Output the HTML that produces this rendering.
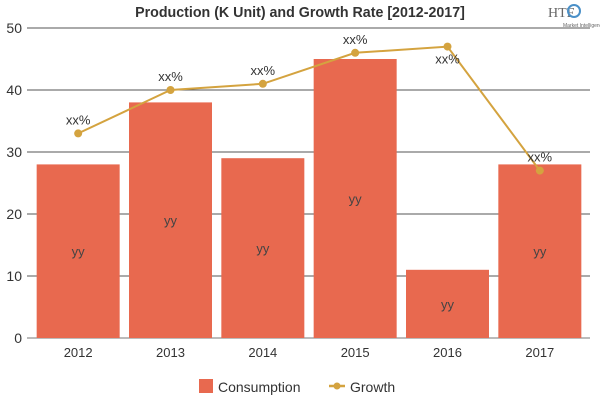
<!DOCTYPE html>
<html><head><meta charset="utf-8"><style>
body{margin:0;background:#fff;width:600px;height:400px;overflow:hidden;font-family:"Liberation Sans",sans-serif}
</style></head><body>
<svg id="c" width="600" height="400">
<text x="300" y="17" text-anchor="middle" font-size="15" font-weight="bold" fill="#333" font-family="Liberation Sans Narrow, Liberation Sans, sans-serif" transform="translate(300,0) scale(0.95,1) translate(-300,0)">Production (K Unit) and Growth Rate [2012-2017]</text>
<g><text x="548" y="17" font-size="14" fill="#666" font-family="Liberation Serif, serif">HTF</text><circle cx="574" cy="11" r="6" fill="none" stroke="#4a90c8" stroke-width="2"/><text x="563" y="27" font-size="5" fill="#666">Market Intelligence</text></g>
<g id="grid"></g><g id="bars"></g><g id="line"></g><g id="labels"></g>
<g>
<rect x="199" y="379" width="14" height="14" fill="#e8694f"/>
<text x="218" y="392" font-size="14" fill="#333">Consumption</text>
<line x1="329" y1="386" x2="345" y2="386" stroke="#d4a33f" stroke-width="2.5"/>
<circle cx="337" cy="386" r="3.5" fill="#d4a33f"/>
<text x="350" y="392" font-size="14" fill="#333">Growth</text>
</g>
</svg>
<script>
const categories=["2012","2013","2014","2015","2016","2017"];
const consumption=[28,38,29,45,11,28];
const growth=[33,40,41,46,47,27];
const yTicks=[0,10,20,30,40,50];
const barLabels=["yy","yy","yy","yy","yy","yy"];
const growthLabels=["xx%","xx%","xx%","xx%","xx%","xx%"];
const NS="http://www.w3.org/2000/svg";
const x0=32,x1=586,y0=338,yTop=28,yMax=50;
const pitch=(x1-x0)/categories.length;
const xc=i=>x0+pitch*(i+0.5);
const y=v=>y0-(v/yMax)*(y0-yTop);
function mk(tag,attrs,parent,text){const e=document.createElementNS(NS,tag);for(const k in attrs)e.setAttribute(k,attrs[k]);if(text!==undefined)e.textContent=text;document.getElementById(parent).appendChild(e);return e;}
yTicks.forEach(t=>{
 const l=mk("line",{x1:27,x2:590,y1:y(t),y2:y(t),stroke:t===0?"#777":"#555","stroke-width":1},"grid");
 
 
 const tx=mk("text",{x:22,y:y(t)+5,"text-anchor":"end","font-size":14,fill:"#333"},"grid",String(t));
 
 
});
categories.forEach((c,i)=>{
 const tx=mk("text",{x:xc(i),y:357,"text-anchor":"middle","font-size":13,fill:"#333"},"grid",c);
 
 
 const b=mk("rect",{x:xc(i)-41.5,y:y(consumption[i]),width:83,height:y0-y(consumption[i]),fill:"#e8694f"},"bars");
 
 
 const bl=mk("text",{x:xc(i),y:(y(consumption[i])+y0)/2+5,"text-anchor":"middle","font-size":13,fill:"#444"},"labels",barLabels[i]);
 
 
});
const pts=growth.map((v,i)=>xc(i)+","+y(v)).join(" ");
const pl=mk("polyline",{points:pts,fill:"none",stroke:"#d4a33f","stroke-width":2},"line");


growth.forEach((v,i)=>{
 const p=mk("circle",{cx:xc(i),cy:y(v),r:4,fill:"#d4a33f"},"line");
 
 
 const below=i===4;
 const gl=mk("text",{x:xc(i),y:below?y(v)+17:y(v)-9,"text-anchor":"middle","font-size":13,fill:"#333"},"labels",growthLabels[i]);
 
 
});
</script>
</body></html>
